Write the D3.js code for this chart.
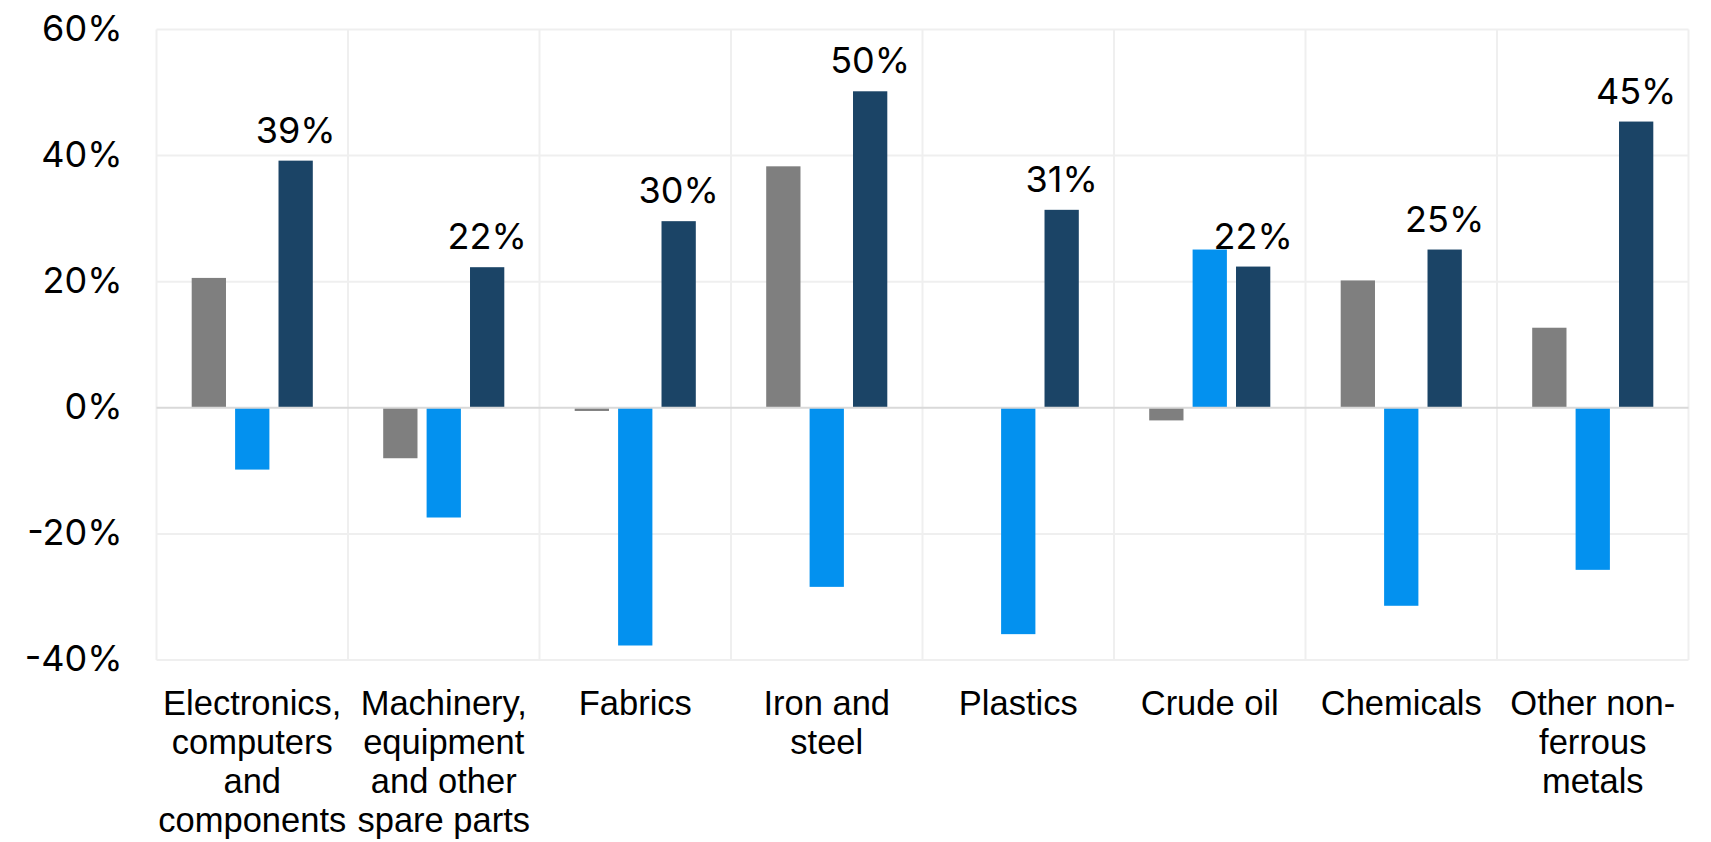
<!DOCTYPE html>
<meta charset="utf-8">
<style>
body { margin: 0; background: #fff; }

.grid { stroke: #efefef; stroke-width: 2px; }
.zero { stroke: #d9d9d9; stroke-width: 2px; }
.num { font-family: Inter, "Liberation Sans", sans-serif; font-size: 36px; fill: #000; }
.cat { font-family: "Liberation Sans", Arial, sans-serif; font-size: 34.5px; fill: #000; }
</style>
<body>

<script src="https://d3js.org/d3.v7.min.js"></script>
<script>

// categories, one entry per line of the wrapped label
var categories = [
  ["Electronics,", "computers", "and", "components"],
  ["Machinery,", "equipment", "and other", "spare parts"],
  ["Fabrics"],
  ["Iron and", "steel"],
  ["Plastics"],
  ["Crude oil"],
  ["Chemicals"],
  ["Other non-", "ferrous", "metals"]
];

// series values in %
var seriesNames = ["grey", "blue", "navy"];
var greyValues = [20.6, -8.0, -0.5, 38.3, 0, -2.0, 20.2, 12.7];
var blueValues = [-9.8, -17.4, -37.7, -28.4, -35.9, 25.1, -31.4, -25.7];
var navyValues = [39.2, 22.3, 29.6, 50.2, 31.4, 22.4, 25.1, 45.4];

// y axis tick labels
var yTicks = [-40, -20, 0, 20, 40, 60];

var colors = {grey: "#7f7f7f", blue: "#0391ef", navy: "#1b4466"};
var values = {grey: greyValues, blue: blueValues, navy: navyValues};

// dimensions and margins
var margin = {top: 29.5, right: 22.5, bottom: 182, left: 156.5},
    width = 1711 - margin.left - margin.right,
    height = 842 - margin.top - margin.bottom;

var x0 = d3.scaleBand().domain(d3.range(categories.length)).range([0, width]);
var x1 = d3.scaleBand().domain(seriesNames)
    .range([35.2, x0.bandwidth() - 35.2])
    .paddingInner(0.21);
var y = d3.scaleLinear().domain([-40, 60]).range([height, 0]);

var svg = d3.select("body").append("svg")
    .attr("width", 1711)
    .attr("height", 842)
  .append("g")
    .attr("transform", "translate(" + margin.left + "," + margin.top + ")");

// horizontal gridlines
svg.selectAll(".hgrid")
    .data(yTicks.filter(function(t) { return t !== 0; }))
  .enter().append("line")
    .attr("class", "grid")
    .attr("x1", 0).attr("x2", width)
    .attr("y1", function(d) { return y(d); })
    .attr("y2", function(d) { return y(d); });

// vertical gridlines between categories
var bounds = d3.range(categories.length).map(function(i) { return x0(i); }).concat([width]);
svg.selectAll(".vgrid")
    .data(bounds)
  .enter().append("line")
    .attr("class", "grid")
    .attr("x1", function(d) { return d; }).attr("x2", function(d) { return d; })
    .attr("y1", y(60)).attr("y2", y(-40));

// bars
var groups = svg.selectAll(".group")
    .data(categories)
  .enter().append("g")
    .attr("transform", function(d, i) { return "translate(" + x0(i) + ",0)"; });

groups.selectAll("rect")
    .data(function(d, i) {
      return seriesNames.map(function(s) { return {key: s, value: values[s][i]}; });
    })
  .enter().append("rect")
    .attr("x", function(d) { return x1(d.key); })
    .attr("width", x1.bandwidth())
    .attr("y", function(d) { return y(Math.max(0, d.value)); })
    .attr("height", function(d) { return Math.abs(y(d.value) - y(0)); })
    .style("fill", function(d) { return colors[d.key]; });

// zero line
svg.append("line")
    .attr("class", "zero")
    .attr("x1", 0).attr("x2", width)
    .attr("y1", y(0)).attr("y2", y(0));

// data labels on the navy bars
groups.append("text")
    .attr("class", "num")
    .attr("text-anchor", "middle")
    .attr("x", x1("navy") + x1.bandwidth() / 2)
    .attr("y", function(d, i) { return y(navyValues[i]) - 18; })
    .text(function(d, i) { return Math.round(navyValues[i]) + "%"; });

// y axis labels
svg.selectAll(".ylabel")
    .data(yTicks)
  .enter().append("text")
    .attr("class", "num")
    .attr("text-anchor", "end")
    .attr("x", -34)
    .attr("y", function(d) { return y(d) + 11; })
    .text(function(d) { return d + "%"; });

// category labels
var catText = groups.append("text")
    .attr("class", "cat")
    .attr("text-anchor", "middle")
    .attr("transform", "translate(" + x0.bandwidth() / 2 + "," + (height + 55) + ")");

catText.selectAll("tspan")
    .data(function(d) { return d; })
  .enter().append("tspan")
    .attr("x", 0)
    .attr("y", function(d, i) { return i * 39; })
    .text(function(d) { return d; });

</script>
</body>
